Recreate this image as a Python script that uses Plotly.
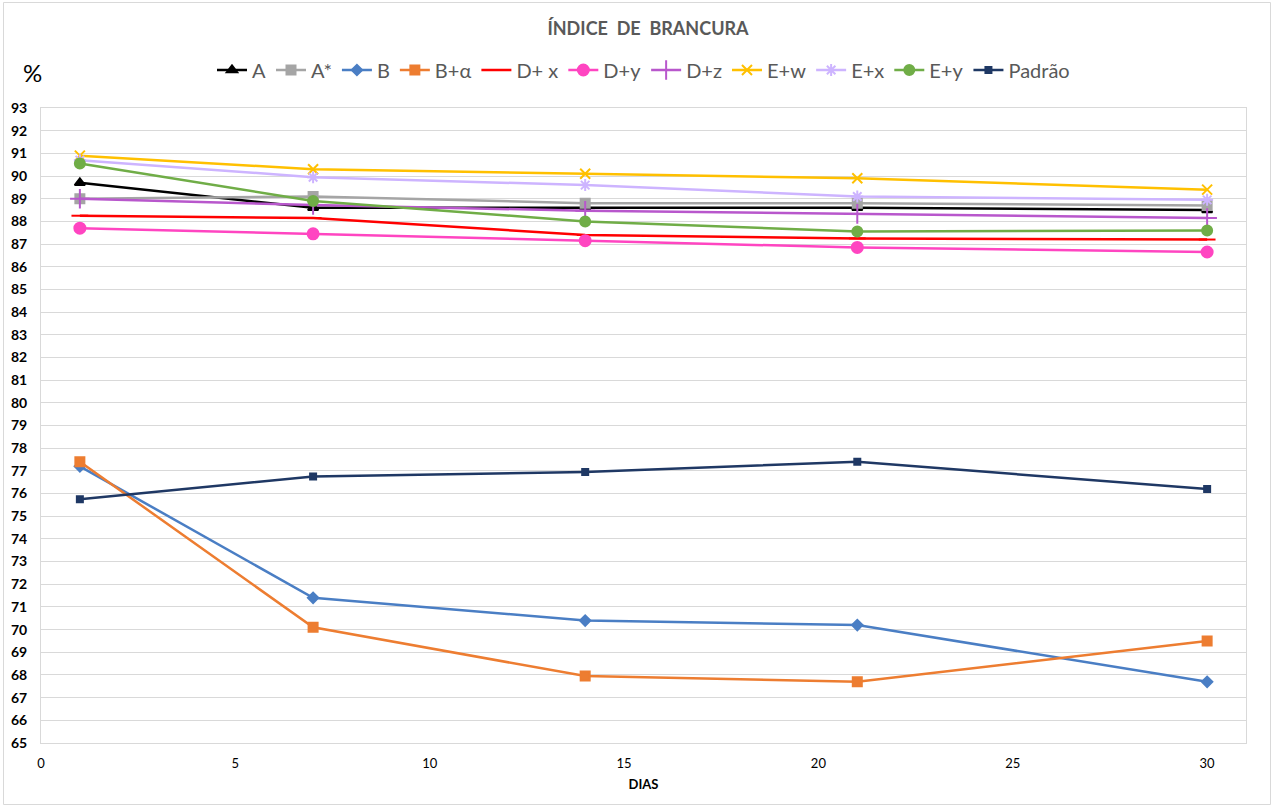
import plotly.graph_objects as go

# Days of measurement
dias = [1, 7, 14, 21, 30]

# Whiteness index (%) per sample
serie_a = [89.7, 88.6, 88.6, 88.6, 88.5]
serie_a_star = [89.0, 89.1, 88.8, 88.8, 88.7]
serie_b = [77.2, 71.4, 70.4, 70.2, 67.7]
serie_b_alpha = [77.4, 70.1, 67.95, 67.7, 69.5]
serie_d_x = [88.25, 88.15, 87.4, 87.25, 87.2]
serie_d_y = [87.7, 87.45, 87.15, 86.85, 86.65]
serie_d_z = [89.0, 88.72, 88.47, 88.33, 88.15]
serie_e_w = [90.9, 90.3, 90.1, 89.9, 89.4]
serie_e_x = [90.7, 89.95, 89.6, 89.1, 88.95]
serie_e_y = [90.55, 88.9, 88.0, 87.55, 87.6]
serie_padrao = [75.75, 76.75, 76.95, 77.4, 76.2]

series = [
    ("A", serie_a, "#000000", "triangle-up", 9),
    ("A*", serie_a_star, "#A5A5A5", "square", 9),
    ("B", serie_b, "#4A7EC4", "diamond", 8),
    ("B+α", serie_b_alpha, "#ED7D31", "square", 9),
    ("D+ x", serie_d_x, "#FF0000", "line-ew", 12),
    ("D+y", serie_d_y, "#FF45C1", "circle", 11),
    ("D+z", serie_d_z, "#B857CC", "cross-thin", 14),
    ("E+w", serie_e_w, "#FFC000", "x-thin", 10),
    ("E+x", serie_e_x, "#CDB4FF", "asterisk", 10),
    ("E+y", serie_e_y, "#70AD47", "circle", 10),
    ("Padrão", serie_padrao, "#1F3864", "square", 6),
]

fig = go.Figure()
for name, vals, color, symbol, size in series:
    fig.add_trace(go.Scatter(
        x=dias, y=vals, name=name, mode="lines+markers",
        line=dict(color=color, width=2.5),
        marker=dict(color=color, symbol=symbol, size=size,
                    line=dict(color=color, width=2)),
    ))

W, H = 1274, 807
ml, mr, mt, mb = 41, 28, 108, 64
pw, ph = W - ml - mr, H - mt - mb


def px_x(x):
    return (x - ml) / pw


def px_y(y):
    return (H - mb - y) / ph


font = "Lato, 'Open Sans', sans-serif"

fig.update_layout(
    width=W, height=H,
    margin=dict(l=ml, r=mr, t=mt, b=mb),
    paper_bgcolor="white", plot_bgcolor="white",
    font=dict(family=font, color="#000000"),
    title=dict(text="<b>ÍNDICE  DE  BRANCURA</b>", x=648 / W, xanchor="center",
               y=1 - 29 / H, yanchor="middle",
               font=dict(size=18, color="#595959", family=font)),
    legend=dict(orientation="h", x=0.5, xanchor="center", y=px_y(70),
                yanchor="middle", font=dict(size=20, color="#595959"),
                itemwidth=30, tracegroupgap=0, bgcolor="rgba(0,0,0,0)"),
    xaxis=dict(range=[0, 31], tick0=0, dtick=5, showgrid=False,
               showline=True, linecolor="#D9D9D9", linewidth=1, mirror=True,
               ticks="", ticklabelstandoff=8, zeroline=False,
               tickfont=dict(size=13, color="#000000"),
               title=dict(text="<b>DIAS</b>", font=dict(size=13, color="#000000"),
                          standoff=10)),
    yaxis=dict(range=[65, 93], tick0=65, dtick=1, showgrid=True,
               gridcolor="#D9D9D9", gridwidth=1,
               showline=True, linecolor="#D9D9D9", linewidth=1, mirror=True,
               ticks="", ticklabelstandoff=10, zeroline=False,
               tickfont=dict(size=14, color="#000000", weight="bold")),
    annotations=[dict(text="%", xref="paper", yref="paper",
                      x=px_x(32), y=px_y(72), showarrow=False,
                      xanchor="center", yanchor="middle",
                      font=dict(size=24, color="#000000"))],
    shapes=[dict(type="rect", xref="paper", yref="paper",
                 x0=px_x(3.5), x1=px_x(1270.5), y0=px_y(804.5), y1=px_y(2.5),
                 line=dict(color="#D9D9D9", width=1), layer="below")],
)

fig.write_html("out.html")
